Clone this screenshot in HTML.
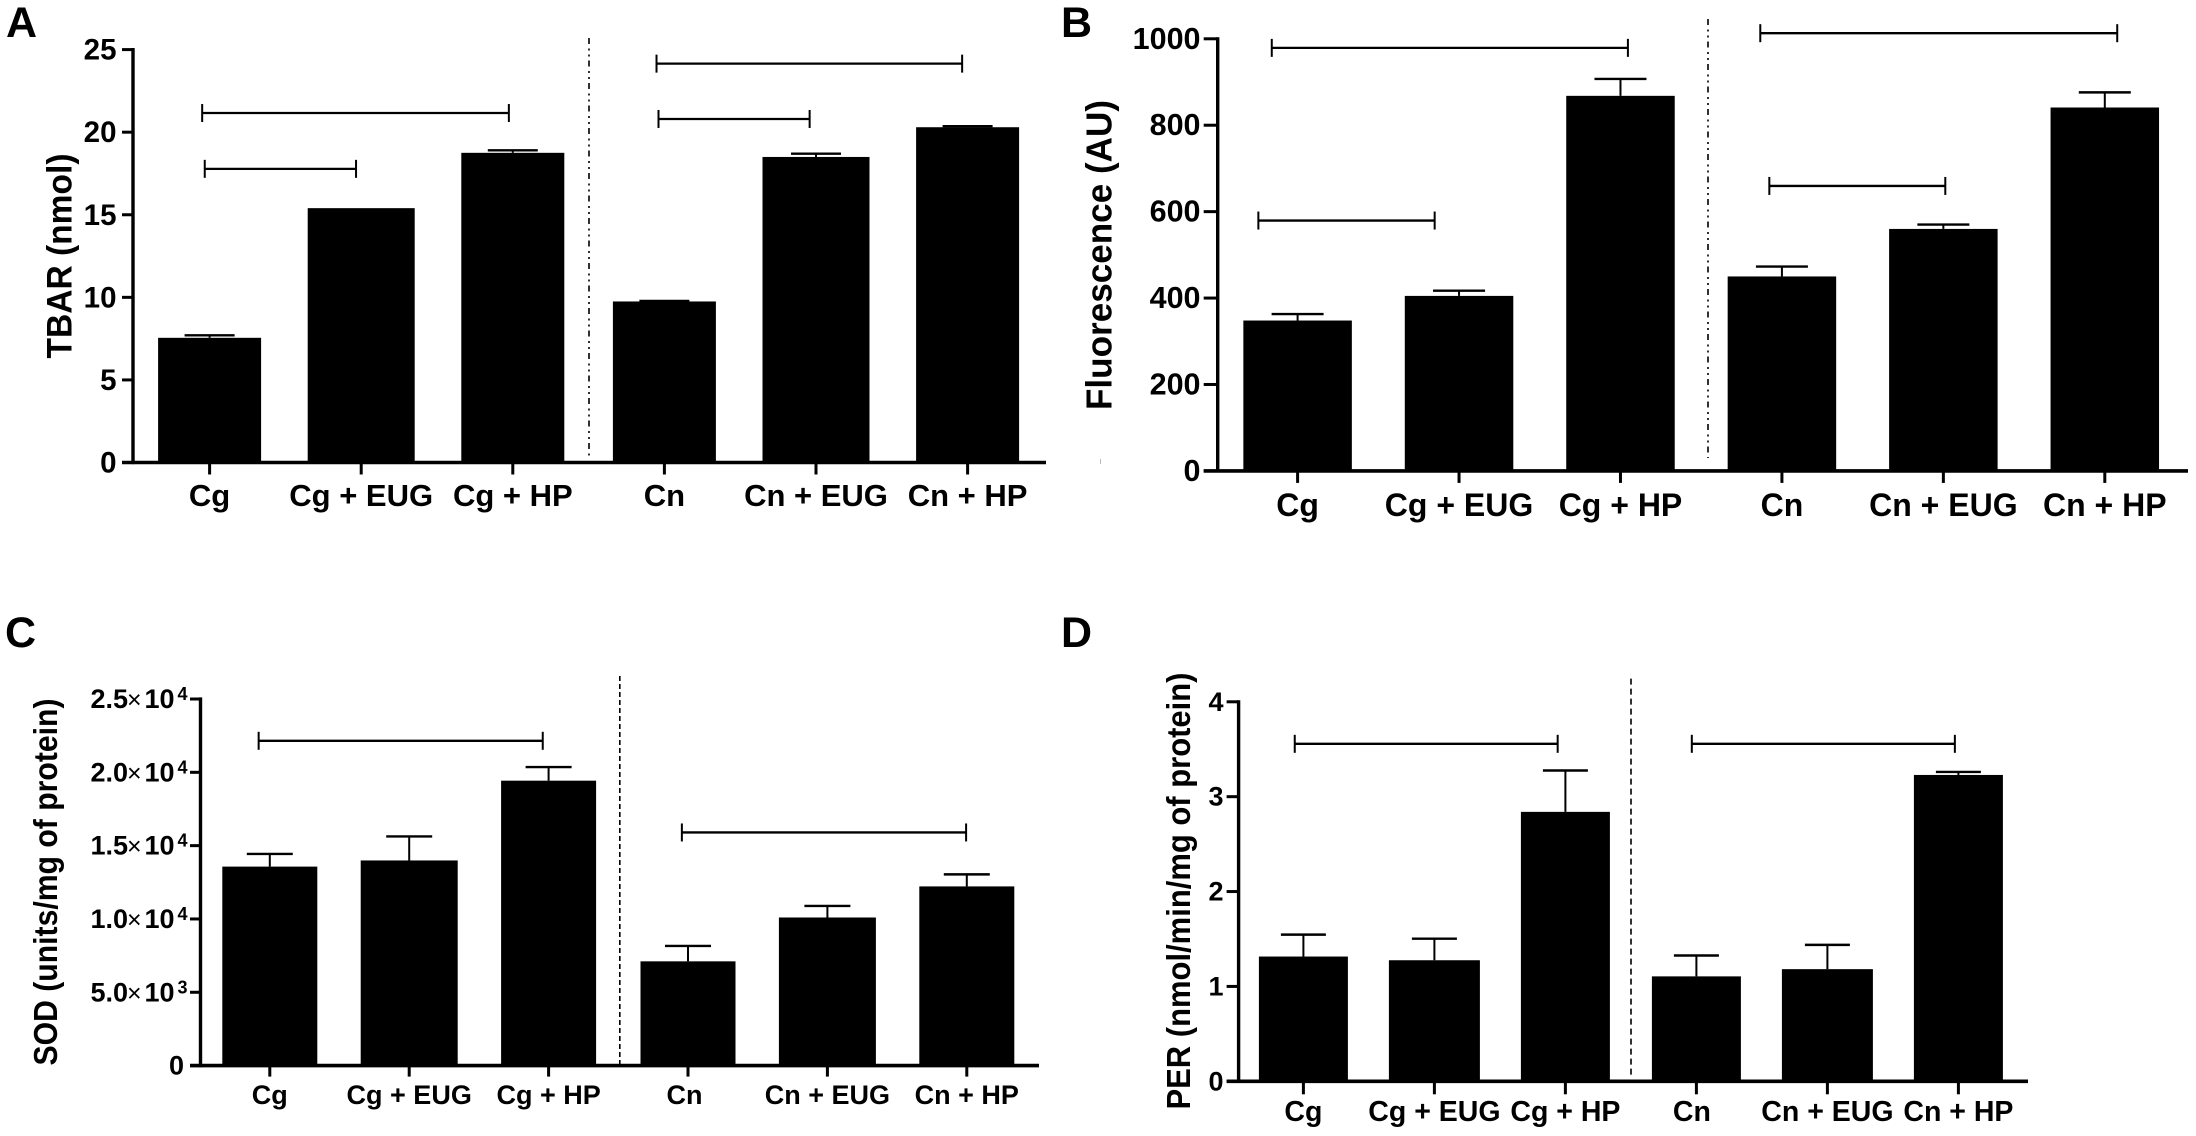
<!DOCTYPE html>
<html lang="en">
<head>
<meta charset="utf-8">
<title>Oxidative stress panels</title>
<style>
html,body{margin:0;padding:0;background:#fff;}
svg{display:block;}
text{font-family:"Liberation Sans",Arial,sans-serif;font-weight:700;fill:#000;}
</style>
</head>
<body>
<svg id="figure" xmlns="http://www.w3.org/2000/svg" width="2196" height="1136" viewBox="0 0 2196 1136">
  <rect x="0" y="0" width="2196" height="1136" fill="#fff"/>
  <rect x="1100" y="459" width="1" height="5" fill="#bbb"/>
  <g id="panel-a">
    <text x="6" y="37" font-size="43">A</text>
    <text transform="translate(71.7,256) rotate(-90)" text-anchor="middle" font-size="35" textLength="205" lengthAdjust="spacingAndGlyphs">TBAR (nmol)</text>
  </g>
  <g id="panel-b">
    <text x="1061" y="37" font-size="43">B</text>
    <text transform="translate(1111.7,255) rotate(-90)" text-anchor="middle" font-size="36" textLength="310" lengthAdjust="spacingAndGlyphs">Fluorescence (AU)</text>
  </g>
  <g id="panel-c">
    <text x="5" y="647" font-size="43">C</text>
    <text transform="translate(57,882) rotate(-90)" text-anchor="middle" font-size="33" textLength="367" lengthAdjust="spacingAndGlyphs">SOD (units/mg of protein)</text>
  </g>
  <g id="panel-d">
    <text x="1061" y="647" font-size="43">D</text>
    <text transform="translate(1190,891) rotate(-90)" text-anchor="middle" font-size="33" textLength="437" lengthAdjust="spacingAndGlyphs">PER (nmol/min/mg of protein)</text>
  </g>
</svg>
<script>
// Shared categories
const categories = ['Cg', 'Cg + EUG', 'Cg + HP', 'Cn', 'Cn + EUG', 'Cn + HP'];

// Panel A data
const aValues = [7.55, 15.4, 18.75, 9.75, 18.5, 20.3];
const aErrorTops = [7.7, 15.4, 18.9, 9.78, 18.7, 20.36];
const aTicks = [0, 5, 10, 15, 20, 25];
const aTickLabels = ['0', '5', '10', '15', '20', '25'];
const aBracketFrom = [-0.049, -0.032, 2.948, 2.961];
const aBracketTo = [1.974, 0.966, 4.964, 3.958];
const aBracketLevel = [21.16, 17.78, 24.15, 20.8];

// Panel B data
const bValues = [348, 405, 868, 450, 560, 841];
const bErrorTops = [363, 417, 907, 473, 570, 876];
const bTicks = [0, 200, 400, 600, 800, 1000];
const bTickLabels = ['0', '200', '400', '600', '800', '1000'];
const bBracketFrom = [-0.16, -0.243, 2.866, 2.922];
const bBracketTo = [2.046, 0.849, 5.077, 4.012];
const bBracketLevel = [979, 579.4, 1013, 659.5];

// Panel C data
const cValues = [13570, 13990, 19430, 7110, 10100, 12220];
const cErrorTops = [14435, 15625, 20360, 8160, 10890, 13040];
const cTicks = [0, 5000, 10000, 15000, 20000, 25000];
const cTickMantissas = ['0', '5.0', '1.0', '1.5', '2.0', '2.5'];
const cTickExponents = ['', '3', '4', '4', '4', '4'];
const cBracketFrom = [-0.08, 2.956];
const cBracketTo = [1.958, 4.995];
const cBracketLevel = [22150, 15900];

// Panel D data
const dValues = [1.315, 1.276, 2.84, 1.106, 1.182, 3.229];
const dErrorTops = [1.546, 1.503, 3.276, 1.326, 1.438, 3.261];
const dTicks = [0, 1, 2, 3, 4];
const dTickLabels = ['0', '1', '2', '3', '4'];
const dBracketFrom = [-0.066, 2.965];
const dBracketTo = [1.941, 4.973];
const dBracketLevel = [3.557, 3.557];

const SVG_NS = 'http://www.w3.org/2000/svg';

function shape(parent, tag, attrs) {
  const el = document.createElementNS(SVG_NS, tag);
  for (const key in attrs) el.setAttribute(key, attrs[key]);
  parent.appendChild(el);
  return el;
}

function line(parent, x1, y1, x2, y2, width, dash) {
  const attrs = { x1: x1, y1: y1, x2: x2, y2: y2, stroke: '#000', 'stroke-width': width };
  if (dash) attrs['stroke-dasharray'] = dash;
  return shape(parent, 'line', attrs);
}

function drawPanel(key, opts, values, tops, ticks, bFrom, bTo, bLevel, drawTickLabel) {
  const root = document.getElementById('panel-' + key);
  const yMax = ticks[ticks.length - 1];
  const xScale = i => opts.x0 + i * opts.step;
  const yScale = v => opts.zero - v * (opts.zero - opts.top) / yMax;

  // bars and error bars
  categories.forEach((cat, i) => {
    const cx = xScale(i);
    const w = opts.barW + (cat.indexOf('EUG') >= 0 ? opts.eugExtra : 0);
    const bar = shape(root, 'rect', { x: cx - w / 2, y: yScale(values[i]), width: w, height: Math.max(0, opts.zero - yScale(values[i])), fill: '#000' });
    
    

    if (tops[i] > values[i]) {
      const stem = line(root, cx, yScale(values[i]), cx, yScale(tops[i]), 2);
      
      

      const cap = line(root, cx - opts.capW / 2, yScale(tops[i]), cx + opts.capW / 2, yScale(tops[i]), 2.4);
      
      
    }

    const tick = line(root, cx, opts.zero, cx, opts.zero + opts.xTickLen, 3);
    
    

    const label = shape(root, 'text', { x: cx + (cat === 'Cn' ? opts.cnShift : 0), y: opts.labelY, 'text-anchor': 'middle', 'font-size': opts.labelFont });
    label.textContent = cat;
    
    
  });

  // axes
  const yAxis = line(root, opts.axisX, yScale(yMax) - 1.6, opts.axisX, opts.zero + 1.6, 3.4);
  
  

  const xAxis = line(root, opts.axisX - opts.yTickLen, opts.zero, opts.axisEnd, opts.zero, 3.6);
  
  

  ticks.forEach((t, i) => {
    const tick = line(root, opts.axisX - opts.yTickLen, yScale(t), opts.axisX, yScale(t), 3);
    
    

    const label = drawTickLabel(root, i, yScale(t));
    
    
  });

  // comparison brackets
  bFrom.forEach((from, i) => {
    const xa = xScale(from), xb = xScale(bTo[i]), y = yScale(bLevel[i]);
    const bracket = shape(root, 'g', {});
    
    
    line(bracket, xa, y, xb, y, 2.3);
    line(bracket, xa, y - 9, xa, y + 9, 2);
    line(bracket, xb, y - 9, xb, y + 9, 2);
  });

  // group divider
  const divider = line(root, opts.divX, opts.divTop, opts.divX, opts.divBottom, 1.6, opts.divDash);
  
  
}

function plainTickLabel(labels, right, font, offset) {
  return function (root, i, y) {
    const t = shape(root, 'text', { x: right, y: y + offset, 'text-anchor': 'end', 'font-size': font });
    t.textContent = labels[i];
    return t;
  };
}

function sciTickLabel(root, i, y) {
  const t = shape(root, 'text', { 'font-size': 27, y: y + 9 });
  if (!cTickExponents[i]) {
    t.setAttribute('x', 184);
    t.setAttribute('text-anchor', 'end');
    t.textContent = cTickMantissas[i];
    return t;
  }
  const m = shape(t, 'tspan', { x: 90.5 });
  m.textContent = cTickMantissas[i];
  const times = shape(t, 'tspan', { x: 127, 'font-weight': 400, 'font-size': 25 });
  times.textContent = '\u00D7';
  const ten = shape(t, 'tspan', { x: 144.5, 'font-size': 27 });
  ten.textContent = '10';
  const exp = shape(t, 'tspan', { x: 177.5, y: y + 1, 'font-size': 18 });
  exp.textContent = cTickExponents[i];
  return t;
}

drawPanel('a',
  { x0: 209.6, step: 151.6, zero: 462.5, top: 49.6, axisX: 133, axisEnd: 1046, yTickLen: 11, xTickLen: 12, barW: 103, eugExtra: 4, capW: 50,
    labelY: 506, labelFont: 31, cnShift: 0, divX: 589, divTop: 38, divBottom: 458, divDash: '6 4.5 2 4 2 4' },
  aValues, aErrorTops, aTicks, aBracketFrom, aBracketTo, aBracketLevel,
  plainTickLabel(aTickLabels, 116.5, 29.5, 10));

drawPanel('b',
  { x0: 1297.6, step: 161.44, zero: 470.9, top: 38.8, axisX: 1217.7, axisEnd: 2188, yTickLen: 14, xTickLen: 12, barW: 108.5, eugExtra: 0, capW: 52,
    labelY: 516, labelFont: 32, cnShift: 0, divX: 1708, divTop: 19, divBottom: 458, divDash: '6 4.5 2 4 2 4' },
  bValues, bErrorTops, bTicks, bBracketFrom, bBracketTo, bBracketLevel,
  plainTickLabel(bTickLabels, 1200.5, 30.5, 10));

drawPanel('c',
  { x0: 269.8, step: 139.4, zero: 1065.6, top: 699, axisX: 200.5, axisEnd: 1039, yTickLen: 10.5, xTickLen: 11, barW: 95, eugExtra: 2, capW: 46,
    labelY: 1104, labelFont: 27, cnShift: -3.5, divX: 619.8, divTop: 676, divBottom: 1064, divDash: '5 3' },
  cValues, cErrorTops, cTicks, cBracketFrom, cBracketTo, cBracketLevel,
  sciTickLabel);

drawPanel('d',
  { x0: 1303.4, step: 131, zero: 1081.3, top: 701.8, axisX: 1238.6, axisEnd: 2028, yTickLen: 12, xTickLen: 13, barW: 89, eugExtra: 2, capW: 45,
    labelY: 1121, labelFont: 28.5, cnShift: -4.5, divX: 1631, divTop: 678.6, divBottom: 1078.5, divDash: '6 4' },
  dValues, dErrorTops, dTicks, dBracketFrom, dBracketTo, dBracketLevel,
  plainTickLabel(dTickLabels, 1223.5, 27, 9));
</script>
</body>
</html>
